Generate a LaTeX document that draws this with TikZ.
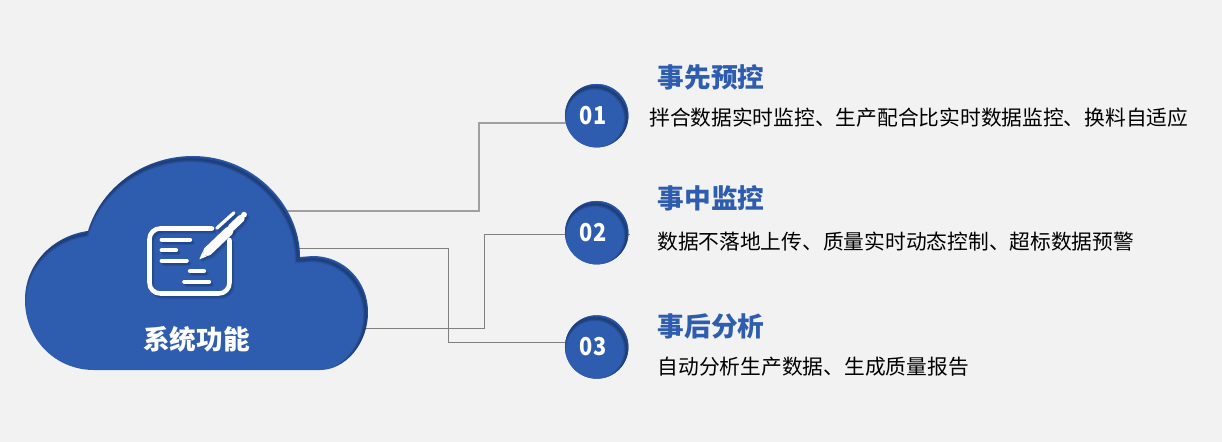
\documentclass[tikz,border=0pt]{standalone}
\usepackage{fontspec}
\setmainfont{Noto Sans CJK SC}
\newfontfamily\digitfont[FakeStretch=0.88]{Noto Sans CJK SC}
\definecolor{bgc}{HTML}{F2F2F2}
\definecolor{bluec}{HTML}{2E5CAE}
\definecolor{darkc}{HTML}{0E2148}
\definecolor{linec}{HTML}{808080}
\colorlet{iconc}{white}
\newcommand{\cloudpath}{(88,231) .. controls (102,186) and (145,156) .. (193,156) .. controls (252,156) and (300,204) .. (300,257) -- (313,256) .. controls (344,256) and (368,281) .. (368,312) .. controls (368,344) and (345,370) .. (320,370) -- (94,370) .. controls (55,370) and (25,339) .. (25,300) .. controls (25,265) and (52,236) .. (88,231) -- cycle}
\newcommand{\myicon}[2]{%
  \begin{scope}[#2]
    \colorlet{iconc}{#1}
    \draw[iconline,line width=3.4pt,rounded corners=8] (212,228.5) -- (149.5,228.5) -- (149.5,293.5) -- (229.5,293.5) -- (229.5,240);
    \draw[iconline] (161.7,239.7) -- (190,239.7);
    \draw[iconline] (161.7,250.3) -- (176,250.3);
    \draw[iconline] (161.7,260.7) -- (186.7,260.7);
    \draw[iconline] (190,271) -- (204,271);
    \draw[iconline] (184.3,281.7) -- (209,281.7);
    \draw[iconline,line width=6.8pt] (207.5,251.5) -- (229,231);
    \draw[iconline,line width=5.6pt] (231.5,227.5) -- (241,218.5);
    \draw[iconline,line width=2.4pt] (216.7,228.3) -- (234,212.7);
    \fill[iconc] (244,214.7) circle[radius=2.9];
    \fill[iconc] (199.3,259.3) -- (202.5,252) -- (206.5,256.5) -- cycle;
  \end{scope}}
\tikzset{
  iconline/.style={draw=iconc,line width=3.2pt,line cap=round,line join=round},
  connector/.style={draw=linec,line width=0.7pt},
  badge/.style={circle,fill=bluec,minimum size=47.6pt,inner sep=0pt},
  badgetext/.style={text=white,inner sep=0pt,font=\fontsize{18.5pt}{22pt}\digitfont\bfseries},
  heading/.style={anchor=west,inner sep=0pt,text=bluec,font=\fontsize{20pt}{24pt}\selectfont\bfseries},
  detail/.style={anchor=west,inner sep=0pt,text=black,font=\fontsize{15.55pt}{18pt}\selectfont},
}
\begin{document}
\begin{tikzpicture}[x=0.75pt,y=-0.75pt]
\useasboundingbox (0,0) rectangle (1222,442);
\fill[bgc] (0,0) rectangle (1222,442);
% free ends and bends
\coordinate (cloudA) at (285,211);
\coordinate (cloudB) at (295,248);
\coordinate (cloudC) at (360,328);
\coordinate (bendA) at (479,123);
\coordinate (bendB) at (484,234);
\coordinate (bendC) at (448,342);
\coordinate (tailB) at (630,234);
\node[badge] (c1) at (596.7,115.7) {};
\node[badge] (c2) at (596.7,232.7) {};
\node[badge] (c3) at (596.7,347) {};
% connectors
\draw[connector,draw=linec!75!white,line width=1pt] (cloudA) -| (bendA) -- (bendA -| c1.center);
\draw[connector] (cloudC) -| (bendB) -- (tailB);
\draw[connector] (cloudB) -| (bendC) -- (bendC -| c3.center);
% cloud
\fill[bluec] \cloudpath;
\begin{scope}
  \clip \cloudpath;
  \foreach \w in {4.4,3.4,2.4,1.4,0.7}
    \draw[darkc,opacity=.13,line width=\w pt,yshift=-2.4pt,xshift=-1.6pt] \cloudpath;
\end{scope}
% badges with inner shading
\foreach \n/\y/\t in {c1/115.7/01,c2/232.7/02,c3/347/03}{
  \begin{scope}
    \fill[bluec] (596.7,\y) circle[radius=31.7];
    \clip (596.7,\y) circle[radius=31.7];
    \foreach \w in {4,3,2,1}
      \draw[darkc,opacity=.15,line width=\w pt] (594.9,\y+3) circle[radius=31.7];
  \end{scope}
  \node[badgetext] (t\n) at (593,\y) {\t};
}
% icon
\myicon{darkc}{opacity=.16,xshift=2pt,yshift=-2.3pt}
\myicon{darkc}{opacity=.22,xshift=1.1pt,yshift=-1.3pt}
\myicon{white}{}
\node[inner sep=0pt,text=white,font=\fontsize{20pt}{24pt}\selectfont\bfseries] (cloudtitle) at (196.5,339.5) {系统功能};
% texts
\node[heading] (h1) at (657.5,77) {事先预控};
\node[detail] (d1) at (649,118) {拌合数据实时监控、生产配合比实时数据监控、换料自适应};
\node[heading] (h2) at (657.5,198) {事中监控};
\node[detail] (d2) at (657,241.5) {数据不落地上传、质量实时动态控制、超标数据预警};
\node[heading] (h3) at (657.5,326) {事后分析};
\node[detail] (d3) at (657.5,366.5) {自动分析生产数据、生成质量报告};
\end{tikzpicture}
\end{document}
